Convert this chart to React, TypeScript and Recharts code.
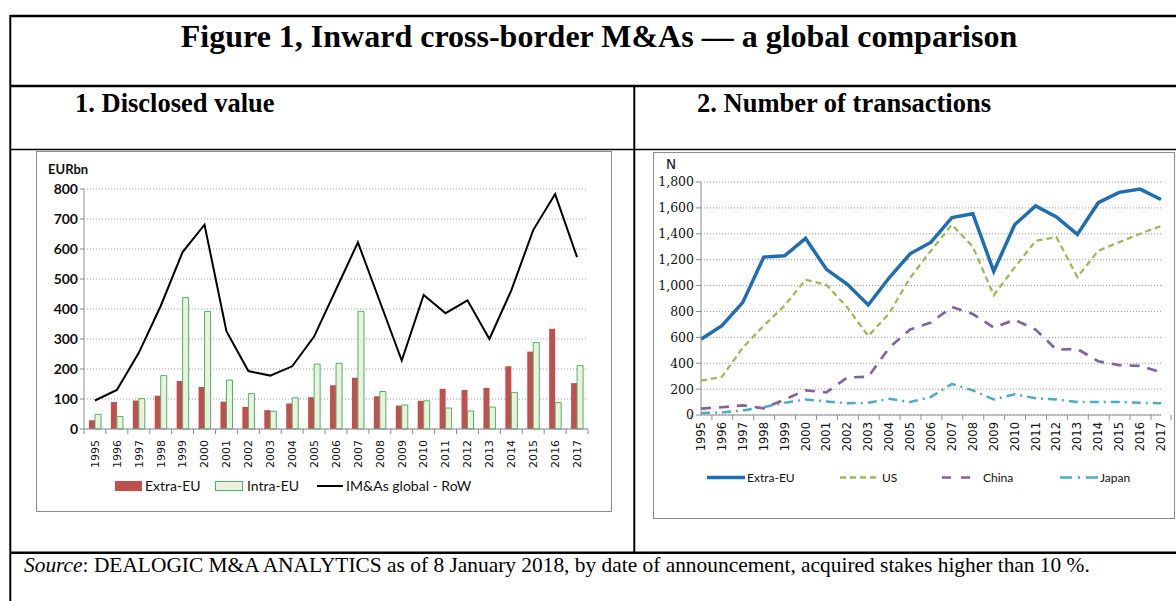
import { Bar, CartesianGrid, ComposedChart, Line, LineChart, XAxis, YAxis } from 'recharts';

const years = [
  '1995', '1996', '1997', '1998', '1999', '2000', '2001', '2002', '2003', '2004', '2005', '2006',
  '2007', '2008', '2009', '2010', '2011', '2012', '2013', '2014', '2015', '2016', '2017',
];

// panel 1, EURbn
const extraEuValue = [29, 90, 95, 111, 160, 140, 91, 74, 63, 85, 106, 146, 171, 109, 78, 94, 134, 130, 137, 209, 258, 334, 153];
const intraEuValue = [49, 42, 101, 178, 438, 392, 163, 118, 59, 104, 216, 219, 392, 125, 80, 94, 70, 60, 73, 122, 288, 88, 212];
const globalRow = [95, 130, 254, 410, 590, 681, 326, 193, 178, 209, 308, 465, 622, 425, 228, 447, 386, 429, 300, 462, 663, 783, 573];
const valueTicks = [0, 100, 200, 300, 400, 500, 600, 700, 800];

// panel 2, number of deals
const extraEuCount = [585, 690, 870, 1220, 1230, 1365, 1125, 1010, 850, 1060, 1245, 1335, 1525, 1555, 1110, 1470, 1615, 1530, 1395, 1640, 1720, 1745, 1665];
const usCount = [265, 295, 520, 690, 845, 1045, 1005, 830, 610, 785, 1060, 1270, 1470, 1300, 925, 1140, 1345, 1375, 1065, 1270, 1335, 1400, 1460];
const chinaCount = [50, 60, 75, 52, 120, 190, 175, 290, 295, 520, 660, 715, 835, 780, 675, 735, 660, 505, 510, 415, 385, 380, 330];
const japanCount = [15, 20, 35, 60, 95, 120, 105, 90, 95, 125, 100, 140, 240, 190, 120, 160, 130, 120, 100, 100, 100, 95, 90];
const countTicks = [0, 200, 400, 600, 800, 1000, 1200, 1400, 1600, 1800];

const valueData = years.map((year, i) => ({
  year,
  extra: extraEuValue[i],
  intra: intraEuValue[i],
  global: globalRow[i],
}));

const countData = years.map((year, i) => ({
  year,
  extra: extraEuCount[i],
  us: usCount[i],
  china: chinaCount[i],
  japan: japanCount[i],
}));

const GREY = '#8c8c8c';
const RED = '#C0504D';
const GREEN_LINE = '#4DB26A';
const GREEN_FILL = '#EAF2DE';
const BLUE = '#1F6DB2';
const OLIVE = '#9BBB59';
const PURPLE = '#8064A2';
const TEAL = '#4BACC6';
const SERIF = '"Liberation Serif", "Times New Roman", serif';
const SANS = 'Lato, "DejaVu Sans", sans-serif';

function YearTick({ x, y, payload, index, step, gap, size }: any) {
  const half = step / 2;
  const ty = y + gap;
  return (
    <g>
      <line x1={x - half} x2={x - half} y1={y} y2={y + 5} stroke={GREY} />
      {index === years.length - 1 && <line x1={x + half} x2={x + half} y1={y} y2={y + 5} stroke={GREY} />}
      <text
        x={x}
        y={ty}
        dy="0.35em"
        textAnchor="end"
        transform={`rotate(-90 ${x} ${ty})`}
        fontFamily='"DejaVu Sans", sans-serif'
        fontSize={size}
        fill="#111"
      >
        {payload.value}
      </text>
    </g>
  );
}

function ValueChart() {
  return (
    <ComposedChart width={574} height={320} data={valueData} margin={{ top: 37, right: 23, bottom: 0, left: 0 }} barGap={0}>
      <CartesianGrid vertical={false} stroke="#9a9a9a" strokeDasharray="1 2" />
      <XAxis
        dataKey="year"
        height={43}
        interval={0}
        tickLine={false}
        tickSize={0}
        tickMargin={0}
        axisLine={{ stroke: GREY }}
        tick={(p: any) => <YearTick {...p} step={504 / 23} gap={11} size={11} />}
      />
      <YAxis
        width={47}
        domain={[0, 800]}
        ticks={valueTicks}
        interval={0}
        axisLine={{ stroke: GREY }}
        tickLine={{ stroke: GREY }}
        tickSize={4}
        tick={{ fontFamily: SANS, fontSize: 14, fontWeight: 700, fill: '#111' }}
      />
      <Bar dataKey="extra" name="Extra-EU" fill={RED} barSize={6} isAnimationActive={false} />
      <Bar dataKey="intra" name="Intra-EU" fill={GREEN_FILL} stroke={GREEN_LINE} strokeWidth={1} barSize={6} isAnimationActive={false} />
      <Line type="linear" dataKey="global" name="IM&As global - RoW" stroke="#000" strokeWidth={2} dot={false} isAnimationActive={false} />
    </ComposedChart>
  );
}

function CountChart() {
  return (
    <LineChart width={520} height={300} data={countData} margin={{ top: 29, right: 13, bottom: 0, left: 0 }}>
      <CartesianGrid vertical={false} stroke="#9a9a9a" strokeDasharray="1 2" />
      <XAxis
        dataKey="year"
        height={38}
        interval={0}
        tickLine={false}
        tickSize={0}
        tickMargin={0}
        axisLine={{ stroke: GREY }}
        tick={(p: any) => <YearTick {...p} step={20} gap={7} size={11.5} />}
      />
      <YAxis
        width={47}
        domain={[0, 1800]}
        ticks={countTicks}
        interval={0}
        axisLine={{ stroke: GREY }}
        tickLine={{ stroke: GREY }}
        tickSize={5}
        tickFormatter={(v: number) => v.toLocaleString('en-US')}
        tick={{ fontFamily: '"DejaVu Serif", serif', fontSize: 12.5, fill: '#111' }}
      />
      <Line type="linear" dataKey="japan" name="Japan" stroke={TEAL} strokeWidth={2.5} strokeDasharray="9 5 2 5" dot={false} isAnimationActive={false} />
      <Line type="linear" dataKey="china" name="China" stroke={PURPLE} strokeWidth={2.7} strokeDasharray="10 8" dot={false} isAnimationActive={false} />
      <Line type="linear" dataKey="us" name="US" stroke={OLIVE} strokeWidth={2.3} strokeDasharray="6 4" dot={false} isAnimationActive={false} />
      <Line type="linear" dataKey="extra" name="Extra-EU" stroke={BLUE} strokeWidth={3.5} dot={false} isAnimationActive={false} />
    </LineChart>
  );
}

function Frame() {
  return (
    <svg width={1176} height={601} style={{ position: 'absolute', left: 0, top: 0 }}>
      <g stroke="#000">
        <line x1={10} x2={1176} y1={16} y2={16} strokeWidth={2.5} />
        <line x1={10.3} x2={10.3} y1={15} y2={601} strokeWidth={2} />
        <line x1={10} x2={1176} y1={86} y2={86} strokeWidth={2.5} />
        <line x1={10} x2={1176} y1={149.5} y2={149.5} strokeWidth={1.5} />
        <line x1={634.3} x2={634.3} y1={86} y2={553} strokeWidth={2} />
        <line x1={10} x2={1176} y1={552.7} y2={552.7} strokeWidth={2.5} />
      </g>
      <g fontFamily={SERIF} fill="#000">
        <text x={599} y={47} textAnchor="middle" fontSize={32} fontWeight={700}>
          Figure 1, Inward cross-border M&amp;As — a global comparison
        </text>
        <text x={75} y={112} fontSize={26.5} fontWeight={700}>1. Disclosed value</text>
        <text x={697} y={112} fontSize={26.5} fontWeight={700}>2. Number of transactions</text>
        <text x={24} y={572} fontSize={21.4}>
          <tspan fontStyle="italic">Source</tspan>: DEALOGIC M&amp;A ANALYTICS as of 8 January 2018, by date of announcement, acquired stakes higher than 10 %.
        </text>
      </g>
    </svg>
  );
}

function ValueLegend() {
  return (
    <svg width={1176} height={601} style={{ position: 'absolute', left: 0, top: 0, pointerEvents: 'none' }}>
      <g fontFamily={SANS} fontSize={14} fill="#111">
        <rect x={115} y={481} width={27} height={10} fill={RED} />
        <text x={145} y={491}>Extra-EU</text>
        <rect x={215.5} y={481.5} width={27} height={9} fill={GREEN_FILL} stroke={GREEN_LINE} />
        <text x={247} y={491}>Intra-EU</text>
        <line x1={317} x2={343} y1={486} y2={486} stroke="#000" strokeWidth={2} />
        <text x={346} y={491}>IM&amp;As global - RoW</text>
      </g>
      <g fontFamily={SANS} fontSize={12} fill="#111">
        <line x1={707} x2={745} y1={477.5} y2={477.5} stroke={BLUE} strokeWidth={3.5} />
        <text x={747} y={482}>Extra-EU</text>
        <line x1={840} x2={880} y1={477.5} y2={477.5} stroke={OLIVE} strokeWidth={2.3} strokeDasharray="6 4" />
        <text x={882} y={482}>US</text>
        <line x1={942} x2={970} y1={477.5} y2={477.5} stroke={PURPLE} strokeWidth={2.7} strokeDasharray="9 10" />
        <text x={983} y={482}>China</text>
        <line x1={1060} x2={1098} y1={477.5} y2={477.5} stroke={TEAL} strokeWidth={2.5} strokeDasharray="12 6 2 6" />
        <text x={1100} y={482}>Japan</text>
      </g>
    </svg>
  );
}

export default function App() {
  return (
    <div style={{ position: 'absolute', left: 0, top: 0, width: 1176, height: 601, background: '#fff', overflow: 'hidden' }}>
      <Frame />
      <div style={{ position: 'absolute', left: 36, top: 151, width: 576, height: 361, border: `1px solid ${GREY}`, boxSizing: 'border-box', background: '#fff' }}>
        <ValueChart />
        <div style={{ position: 'absolute', left: 11, top: 9, fontFamily: SANS, fontWeight: 700, fontSize: 13, color: '#111' }}>EURbn</div>
      </div>
      <div style={{ position: 'absolute', left: 653, top: 152, width: 522, height: 367, border: `1px solid ${GREY}`, boxSizing: 'border-box', background: '#fff' }}>
        <CountChart />
        <div style={{ position: 'absolute', left: 12, top: 3, fontFamily: '"DejaVu Sans", sans-serif', fontSize: 13.5, color: '#111' }}>N</div>
      </div>
      <ValueLegend />
    </div>
  );
}
